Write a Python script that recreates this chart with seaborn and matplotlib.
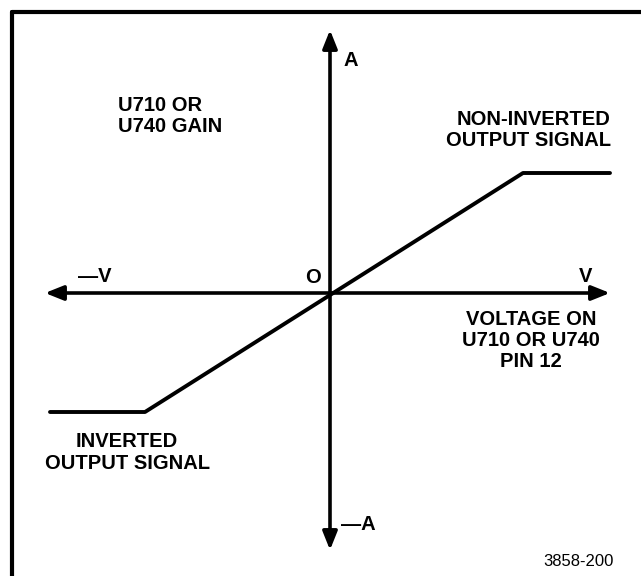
import numpy as np
import pandas as pd
import seaborn as sns
import matplotlib
matplotlib.use("Agg")
from matplotlib import pyplot as plt
from matplotlib.lines import Line2D

# transfer curve: voltage on pin 12 vs gain (units of 100 px in the source)
voltage = [-2.80, -1.85, 1.93, 2.80]
gain = [-1.19, -1.19, 1.20, 1.20]

# axis extents (arrow tips)
v_axis = [-2.85, 2.80]
a_axis = [-2.57, 2.63]

# labels: text, x, y, horizontal alignment
labels = [
    ("U710 OR\nU740 GAIN", -2.12, 1.77, "left"),
    ("A", 0.21, 2.32, "center"),
    ("NON-INVERTED\nOUTPUT SIGNAL", 2.81, 1.63, "right"),
    ("\u2014V", -2.355, 0.16, "center"),
    ("O", -0.17, 0.155, "center"),
    ("V", 2.56, 0.16, "center"),
    ("VOLTAGE ON\nU710 OR U740\nPIN 12", 2.01, -0.475, "center"),
    ("INVERTED\nOUTPUT SIGNAL", -2.03, -1.595, "center"),
    ("\u2014A", 0.28, -2.31, "center"),
]
fig_id = "3858-200"

df = pd.DataFrame({"voltage": voltage, "gain": gain})

sns.set_theme(style="white")
plt.rcParams["font.family"] = ["Liberation Sans", "DejaVu Sans"]
plt.rcParams["text.color"] = "black"

fig = plt.figure(figsize=(6.41, 5.76), dpi=100)
ax = fig.add_axes([0, 0, 1, 1])
ax.set_xlim(-3.30, 3.11)
ax.set_ylim(-2.83, 2.93)
ax.axis("off")

# axes with arrows at both ends
arrow = dict(arrowstyle="<|-|>,head_length=0.5,head_width=0.2", color="black",
             lw=2.6, mutation_scale=22, shrinkA=0, shrinkB=0)
ax.annotate("", xy=(v_axis[1], 0), xytext=(v_axis[0], 0), arrowprops=arrow)
ax.annotate("", xy=(0, a_axis[1]), xytext=(0, a_axis[0]), arrowprops=arrow)

sns.lineplot(data=df, x="voltage", y="gain", ax=ax, color="black",
             linewidth=2.8, sort=False, solid_capstyle="round")

for txt, x, y, ha in labels:
    ax.text(x, y, txt, ha=ha, va="center", fontsize=14.5, color="black",
            fontweight="bold", linespacing=1.15)

ax.text(2.48, -2.69, fig_id, ha="center", va="center", fontsize=12,
        color="black")

# frame (only top and left edges visible in the scan)
fig.add_artist(Line2D([12 / 641, 1], [1 - 12 / 576, 1 - 12 / 576],
                      color="black", lw=3, transform=fig.transFigure))
fig.add_artist(Line2D([12 / 641, 12 / 641], [0, 1 - 12 / 576],
                      color="black", lw=3, transform=fig.transFigure))

fig.savefig("out.png", dpi=100)
